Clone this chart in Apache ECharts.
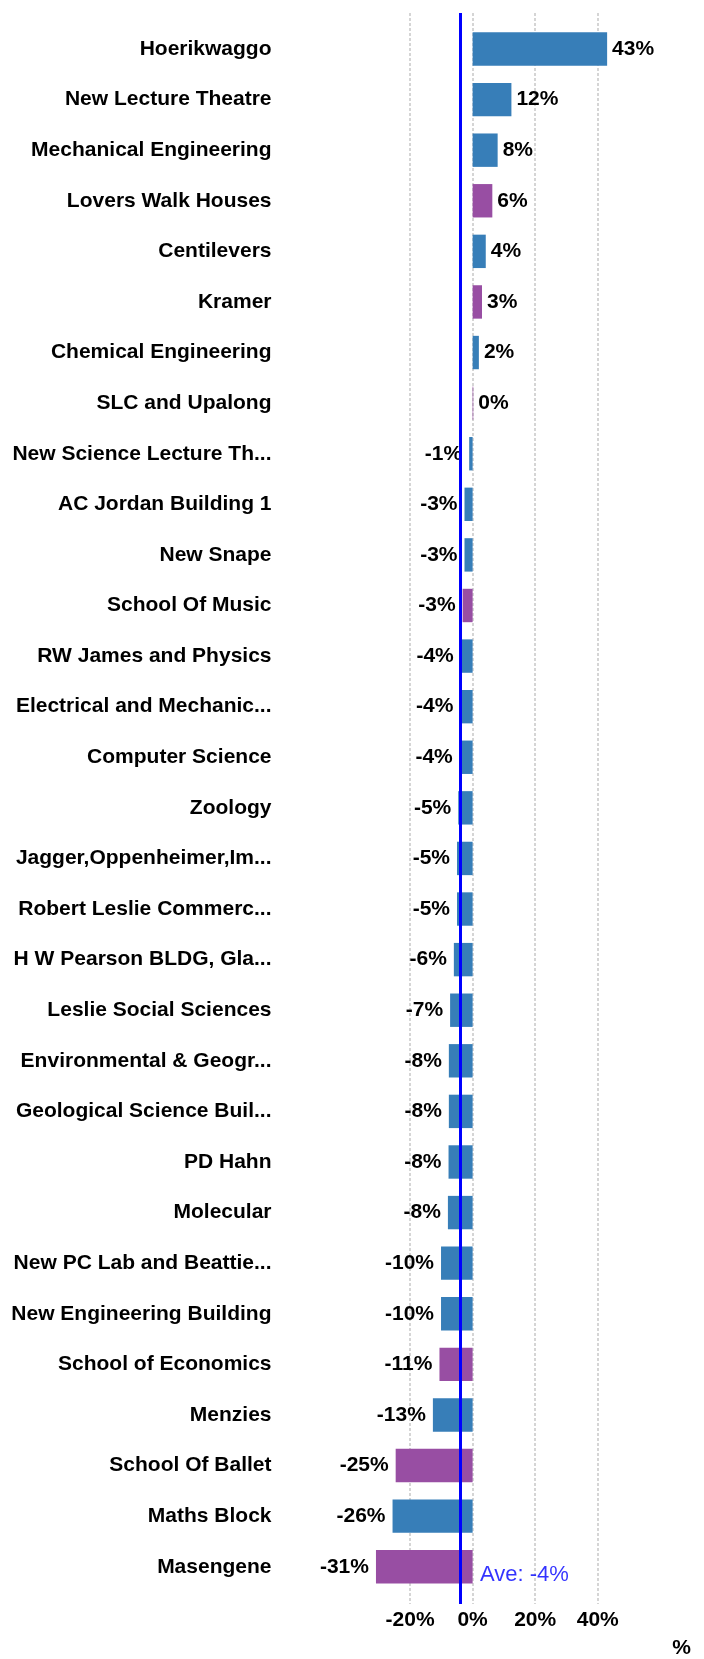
<!DOCTYPE html>
<html>
<head>
<meta charset="utf-8">
<script src="https://cdn.jsdelivr.net/npm/echarts@6.0.0/dist/echarts.min.js"></script>
<style>
  html, body { margin: 0; padding: 0; background: #fff; }
  #chart { width: 704px; height: 1659px; }
</style>
</head>
<body>
<div id="chart"></div>
<script>
// buildings, top to bottom
const buildings = [
  'Hoerikwaggo', 'New Lecture Theatre', 'Mechanical Engineering', 'Lovers Walk Houses',
  'Centilevers', 'Kramer', 'Chemical Engineering', 'SLC and Upalong',
  'New Science Lecture Th...', 'AC Jordan Building 1', 'New Snape', 'School Of Music',
  'RW James and Physics', 'Electrical and Mechanic...', 'Computer Science', 'Zoology',
  'Jagger,Oppenheimer,Im...', 'Robert Leslie Commerc...', 'H W Pearson BLDG, Gla...', 'Leslie Social Sciences',
  'Environmental & Geogr...', 'Geological Science Buil...', 'PD Hahn', 'Molecular',
  'New PC Lab and Beattie...', 'New Engineering Building', 'School of Economics', 'Menzies',
  'School Of Ballet', 'Maths Block', 'Masengene'
]
// % change per building
const changePct = [
  43.0, 12.4, 8.0, 6.3,
  4.2, 3.0, 2.0, 0.2,
  -1.1, -2.6, -2.6, -3.2,
  -3.8, -3.9, -4.1, -4.6,
  -5.0, -5.0, -6.0, -7.2,
  -7.6, -7.6, -7.7, -7.9,
  -10.1, -10.1, -10.6, -12.7,
  -24.6, -25.6, -30.9
]
// 0 = blue group, 1 = purple group
const barGroup = [
  0, 0, 0, 1,
  0, 1, 0, 1,
  0, 0, 0, 1,
  0, 0, 0, 0,
  0, 0, 0, 0,
  0, 0, 0, 0,
  0, 0, 1, 0,
  1, 0, 1
]
const xMin = -40, xMax = 60, xStep = 20

const average = changePct.reduce((s, v) => s + v, 0) / changePct.length
const groupColors = ['#377eb8', '#984ea3']
const font = "'Liberation Sans', Arial, sans-serif"

const chart = echarts.init(document.getElementById('chart'))
chart.setOption({
  animation: false,
  grid: [
    { left: 347.5, right: 43.7, top: 23.7, bottom: 67 },   // bars
    { left: 347.5, right: 43.7, top: 13, bottom: 54 }      // split lines, tick labels, avg line
  ],
  xAxis: [
    {
      gridIndex: 0, type: 'value', min: xMin, max: xMax, interval: xStep,
      axisLine: { show: false }, axisTick: { show: false },
      axisLabel: { show: false }, splitLine: { show: false }
    },
    {
      gridIndex: 1, type: 'value', min: xMin, max: xMax, interval: xStep,
      name: '%', nameLocation: 'end', nameGap: 12,
      nameTextStyle: { fontFamily: font, fontSize: 21, fontWeight: 'bold', color: '#000', verticalAlign: 'top', padding: [34, 0, 0, 0] },
      axisLine: { show: false },
      axisTick: { show: false },
      axisLabel: {
        margin: 6, fontFamily: font, fontSize: 21, fontWeight: 'bold', color: '#000',
        formatter: v => (v === xMin || v === xMax) ? '' : v + '%'
      },
      splitLine: { show: true, showMinLine: false, showMaxLine: false, lineStyle: { color: '#c8c8c8', width: 1.5, type: [3, 2] } }
    }
  ],
  yAxis: [
    {
      gridIndex: 0, type: 'category', inverse: true, data: buildings,
      axisLine: { show: false }, axisTick: { show: false },
      axisLabel: { margin: 76, fontFamily: font, fontSize: 21, fontWeight: 'bold', color: '#000' }
    },
    { gridIndex: 1, type: 'value', min: 0, max: 1, show: false }
  ],
  series: [
    {
      type: 'bar', xAxisIndex: 0, yAxisIndex: 0, barWidth: 33.4,
      data: changePct.map((v, i) => ({
        value: v,
        itemStyle: { color: groupColors[barGroup[i]] },
        label: { position: v < 0 ? 'left' : 'right', distance: v < 0 ? 7 : 5 }
      })),
      label: {
        show: true, fontFamily: font, fontSize: 21, fontWeight: 'bold', color: '#000',
        formatter: p => Math.round(p.value) + '%'
      }
    },
    {
      type: 'scatter', xAxisIndex: 1, yAxisIndex: 1, z: 5, symbolSize: 0,
      data: [[average, 0]],
      label: {
        show: true, position: 'right', distance: 20, offset: [0, -29],
        fontFamily: font, fontSize: 22, color: '#0000ff',
        formatter: () => 'Ave: ' + Math.round(average) + '%'
      },
      markLine: {
        silent: true, symbol: 'none', label: { show: false },
        lineStyle: { color: '#0000ff', width: 3, type: 'solid' },
        data: [{ xAxis: average }]
      }
    }
  ]
})
</script>
</body>
</html>
